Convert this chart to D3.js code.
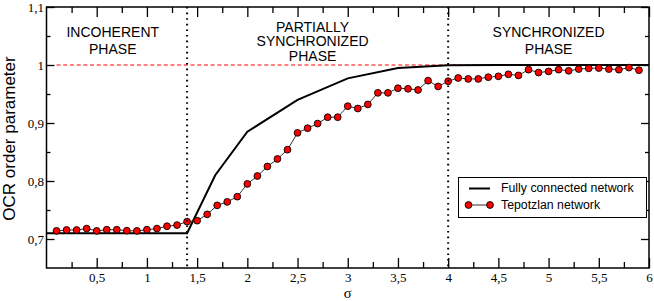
<!DOCTYPE html>
<html><head><meta charset="utf-8">
<script src="https://cdn.jsdelivr.net/npm/d3@7"></script>
<style>
html,body{margin:0;padding:0;background:#fff;}
svg{display:block;}
</style></head>
<body><svg id="c" width="654" height="301"></svg>
<script>
// ---- data ----
const sigmaTep = [0.1,0.2,0.3,0.4,0.5,0.6,0.7,0.8,0.9,1.0,1.1,1.2,1.3,1.4,1.5,1.6,1.7,1.8,1.9,2.0,
  2.1,2.2,2.3,2.4,2.5,2.6,2.7,2.8,2.9,3.0,3.1,3.2,3.3,3.4,3.5,3.6,3.7,3.8,3.9,4.0,
  4.1,4.2,4.3,4.4,4.5,4.6,4.7,4.8,4.9,5.0,5.1,5.2,5.3,5.4,5.5,5.6,5.7,5.8,5.9];
const ocrTep = [0.714,0.7155,0.7155,0.718,0.714,0.716,0.716,0.7143,0.714,0.716,0.718,0.722,0.724,0.730,0.7316,0.7425,0.758,0.764,0.773,0.795,
  0.8086,0.825,0.838,0.854,0.883,0.891,0.899,0.910,0.910,0.929,0.925,0.932,0.952,0.952,0.960,0.959,0.957,0.973,0.963,0.972,
  0.9776,0.976,0.976,0.979,0.9805,0.984,0.982,0.992,0.987,0.989,0.992,0.990,0.993,0.9943,0.9948,0.993,0.992,0.9955,0.991];
const sigmaFull = [0,1.4,1.68,2.0,2.5,3.0,3.5,4.0,4.5,5.0,5.5,6.0];
const ocrFull = [0.71,0.71,0.81,0.885,0.94,0.977,0.995,0.9995,1,1,1,1];
const xMajorTicks = [0.5,1,1.5,2,2.5,3,3.5,4,4.5,5,5.5,6];
const xMinorTicks = [0.25,0.75,1.25,1.75,2.25,2.75,3.25,3.75,4.25,4.75,5.25,5.75];
const yMajorTicks = [0.7,0.8,0.9,1.0,1.1];
const yMinorTicks = [0.75,0.85,0.95,1.05];
const phaseBounds = [1.4,4.0];
const seriesNames = ["Fully connected network","Tepotzlan network"];
const phaseLabels = [
  {x:0.66, lines:["INCOHERENT","PHASE"]},
  {x:2.65, lines:["PARTIALLY","SYNCHRONIZED","PHASE"]},
  {x:5.0, lines:["SYNCHRONIZED","PHASE"]}
];

// ---- layout ----
const svg = d3.select("#c");
const L=46.5, R=649, T=7, B=268;
const x = d3.scaleLinear().domain([0,6]).range([L,R]);
const y = d3.scaleLinear().domain([0.65,1.1]).range([B,T]);
const fmt = d => String(+d.toFixed(2)).replace(".", ",");
const serif = "Liberation Serif, Times New Roman, serif";
const sans = "Liberation Sans, Arial, Helvetica, sans-serif";

// reference line at 1
svg.append("line").attr("x1",x(0.1)).attr("x2",x(6)).attr("y1",y(1)).attr("y2",y(1))
  .attr("stroke","#ff0000").attr("stroke-width",1).attr("stroke-dasharray","4,2.7");

// fully connected line
const line = d3.line().x(d=>x(d[0])).y(d=>y(d[1]));
svg.append("path").datum(sigmaFull.map((s,i)=>[s,ocrFull[i]]))
  .attr("d",line).attr("fill","none").attr("stroke","#000").attr("stroke-width",2);

// Tepotzlan line + markers
const tep = sigmaTep.map((s,i)=>[s,ocrTep[i]]);
svg.append("path").datum(tep).attr("d",line).attr("fill","none").attr("stroke","#333").attr("stroke-width",1);
svg.append("g").selectAll("circle").data(tep).join("circle")
  .attr("cx",d=>x(d[0])).attr("cy",d=>y(d[1])).attr("r",3.4)
  .attr("fill","#ff0000").attr("stroke","#000").attr("stroke-width",0.9);

// phase boundaries
svg.append("g").selectAll("line").data(phaseBounds).join("line")
  .attr("x1",d=>x(d)).attr("x2",d=>x(d)).attr("y1",T).attr("y2",B)
  .attr("stroke","#000").attr("stroke-width",2).attr("stroke-dasharray","1.6,4");

// phase labels
phaseLabels.forEach(p=>{
  const n = p.lines.length;
  const base = n===3 ? [31.5,46,60.5] : [36.5,53.5];
  p.lines.forEach((t,i)=>{
    svg.append("text").attr("x",x(p.x)).attr("y",base[i]).attr("text-anchor","middle")
      .attr("font-family",sans).attr("font-size",14).attr("fill","#000").text(t);
  });
});

// axes
function styleAxis(g){ g.select(".domain").remove(); g.selectAll(".tick line").attr("stroke","#000").attr("stroke-width",1.3);
  g.selectAll("text").attr("font-family",serif).attr("font-size",13).attr("fill","#000"); }
svg.append("g").attr("transform",`translate(0,${B})`)
  .call(d3.axisBottom(x).tickValues(xMajorTicks).tickSize(-10).tickPadding(4.7).tickFormat(fmt)).call(styleAxis);
svg.append("g").attr("transform",`translate(0,${B})`)
  .call(d3.axisBottom(x).tickValues(xMinorTicks).tickSize(-6).tickFormat("")).call(styleAxis);
svg.append("g").attr("transform",`translate(0,${T})`)
  .call(d3.axisTop(x).tickValues(xMajorTicks).tickSize(-10).tickFormat("")).call(styleAxis);
svg.append("g").attr("transform",`translate(0,${T})`)
  .call(d3.axisTop(x).tickValues(xMinorTicks).tickSize(-6).tickFormat("")).call(styleAxis);
svg.append("g").attr("transform",`translate(${L},0)`)
  .call(d3.axisLeft(y).tickValues(yMajorTicks).tickSize(-8).tickPadding(2.5).tickFormat(fmt)).call(styleAxis);
svg.append("g").attr("transform",`translate(${L},0)`)
  .call(d3.axisLeft(y).tickValues(yMinorTicks).tickSize(-4).tickFormat("")).call(styleAxis);
svg.append("g").attr("transform",`translate(${R},0)`)
  .call(d3.axisRight(y).tickValues(yMajorTicks).tickSize(-8).tickFormat("")).call(styleAxis);
svg.append("g").attr("transform",`translate(${R},0)`)
  .call(d3.axisRight(y).tickValues(yMinorTicks).tickSize(-4).tickFormat("")).call(styleAxis);

// frame
svg.append("rect").attr("x",L).attr("y",T).attr("width",R-L).attr("height",B-T)
  .attr("fill","none").attr("stroke","#000").attr("stroke-width",1.5);

// axis titles
svg.append("text").attr("x",x(3)).attr("y",297.8).attr("text-anchor","middle")
  .attr("font-family",serif).attr("font-size",14.5).text("σ");
svg.append("text").attr("transform",`translate(15,${(T+B)/2+1}) rotate(-90)`).attr("text-anchor","middle")
  .attr("font-family",sans).attr("font-size",17).text("OCR order parameter");

// legend
const lg = svg.append("g");
lg.append("rect").attr("x",458.5).attr("y",177.5).attr("width",188).attr("height",40)
  .attr("fill","#fff").attr("stroke","#000").attr("stroke-width",1);
lg.append("line").attr("x1",469).attr("x2",490).attr("y1",188.5).attr("y2",188.5).attr("stroke","#000").attr("stroke-width",2);
lg.append("line").attr("x1",468.5).attr("x2",490).attr("y1",205).attr("y2",205).attr("stroke","#333").attr("stroke-width",1);
lg.selectAll("circle").data([468.5,490]).join("circle").attr("cx",d=>d).attr("cy",205).attr("r",3.4)
  .attr("fill","#ff0000").attr("stroke","#000").attr("stroke-width",0.9);
lg.selectAll("text").data(seriesNames).join("text").attr("x",501).attr("y",(d,i)=>192+i*17)
  .attr("font-family",sans).attr("font-size",12.3).attr("fill","#000").text(d=>d);
</script></body></html>
